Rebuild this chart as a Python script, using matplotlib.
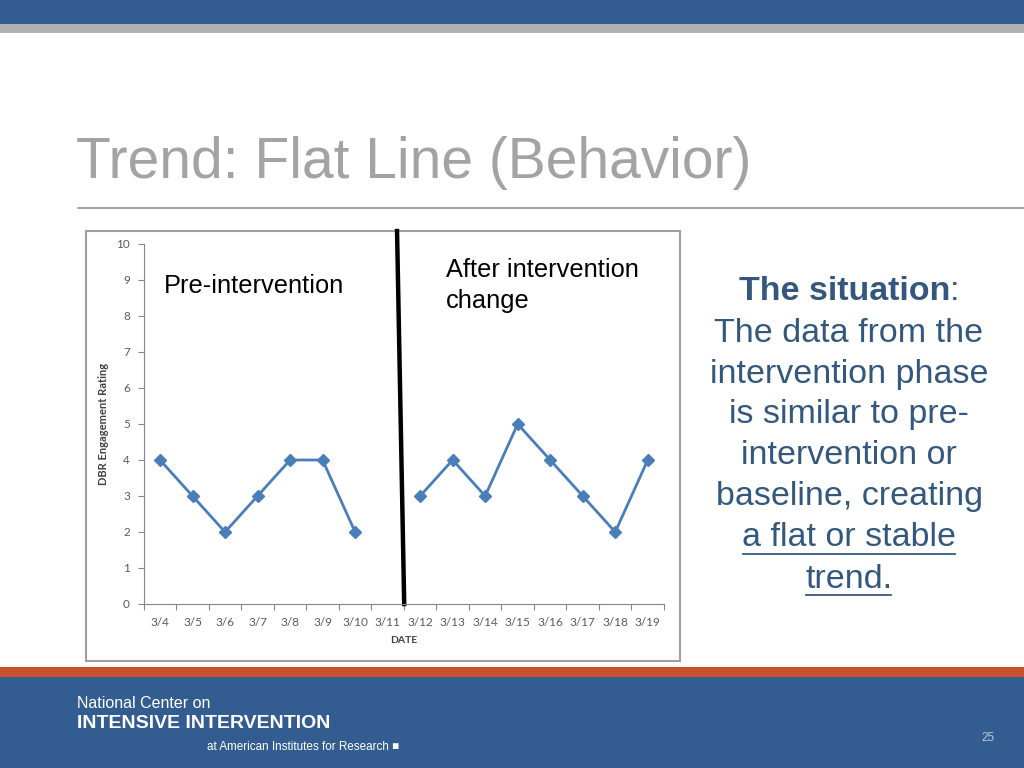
import matplotlib
matplotlib.use('Agg')
import matplotlib.pyplot as plt
from matplotlib.patches import Rectangle
from matplotlib.lines import Line2D
import numpy as np

# data
dates = ['3/4', '3/5', '3/6', '3/7', '3/8', '3/9', '3/10', '3/11',
         '3/12', '3/13', '3/14', '3/15', '3/16', '3/17', '3/18', '3/19']
pre_dates = ['3/4', '3/5', '3/6', '3/7', '3/8', '3/9', '3/10']
pre_vals = [4, 3, 2, 3, 4, 4, 2]
post_dates = ['3/12', '3/13', '3/14', '3/15', '3/16', '3/17', '3/18', '3/19']
post_vals = [3, 4, 3, 5, 4, 3, 2, 4]
yticks = list(range(0, 11))

blue_bar = '#335d90'
txt_blue = '#34587d'
line_blue = '#4a7ebb'
tick_gray = '#595959'

fig = plt.figure(figsize=(10.24, 7.68), dpi=100)

# slide background drawn in pixel coords
bg = fig.add_axes([0, 0, 1, 1])
bg.set_xlim(0, 1024)
bg.set_ylim(768, 0)
bg.axis('off')

bg.add_patch(Rectangle((0, 0), 1024, 24, color=blue_bar, lw=0))
bg.add_patch(Rectangle((0, 24), 1024, 9, color='#b1b1b1', lw=0))
bg.add_patch(Rectangle((0, 667), 1024, 10, color='#c8512c', lw=0))
bg.add_patch(Rectangle((0, 677), 1024, 91, color=blue_bar, lw=0))

rfont = ['Liberation Sans', 'DejaVu Sans']
bg.text(76, 163, 'Trend: Flat Line (Behavior)', fontsize=41, color='#a3a3a3',
        family=rfont, va='center', ha='left')
bg.plot([78, 1024], [208, 208], color='#8a93a6', lw=1.2)

# picture frame of the chart
bg.add_patch(Rectangle((86, 231), 594, 430, facecolor='white', edgecolor='#a0a0a0', lw=1.5))

# right-hand text
fs = 24.5
bg.text(739, 292, 'The situation', fontsize=fs, color=txt_blue, family=rfont,
        fontweight='bold', ha='left', va='center')
bg.text(950, 292, ':', fontsize=fs, color=txt_blue, family=rfont, ha='left', va='center')
lines = ['The data from the', 'intervention phase', 'is similar to pre-',
         'intervention or', 'baseline, creating', 'a flat or stable', 'trend.']
for k, s in enumerate(lines):
    bg.text(849, 333 + k * 41, s, fontsize=fs, color=txt_blue, family=rfont,
            ha='center', va='center')
bg.plot([743, 955], [554, 554], color=txt_blue, lw=1.3)
bg.plot([806, 891], [595, 595], color=txt_blue, lw=1.3)

# annotations inside the chart picture
bg.text(164, 286, 'Pre-intervention', fontsize=18.3, family=rfont, va='center', ha='left')
bg.text(446, 270, 'After intervention', fontsize=18.3, family=rfont, va='center', ha='left')
bg.text(446, 301, 'change', fontsize=18.3, family=rfont, va='center', ha='left')

# footer
bg.text(77, 703, 'National Center on', fontsize=11.5, color='white', family=rfont, va='center')
bg.text(77, 724, 'INTENSIVE INTERVENTION', fontsize=14, color='white', family=rfont,
        fontweight='bold', va='center')
bg.text(207, 747, 'at American Institutes for Research \u25a0', fontsize=8.4, color='white',
        family=rfont, va='center')
bg.text(988, 738, '25', fontsize=8.5, color='#b9c6d8', family=rfont, ha='center', va='center')

# the chart itself
ax = fig.add_axes([143.75 / 1024, (768 - 604) / 768, 520.25 / 1024, 360 / 768])
ax.set_facecolor('none')
xpos = {d: i for i, d in enumerate(dates)}
ax.plot([xpos[d] for d in pre_dates], pre_vals, color=line_blue, lw=2,
        marker='D', markersize=6.5)
ax.plot([xpos[d] for d in post_dates], post_vals, color=line_blue, lw=2,
        marker='D', markersize=6.5)

ax.set_xlim(-0.5, len(dates) - 0.5)
ax.set_ylim(0, 10)
ax.set_yticks(yticks)
ax.set_xticks(np.arange(len(dates) + 1) - 0.5)
ax.set_xticklabels([])
ax.set_xticks(np.arange(len(dates)), minor=True)
ax.set_xticklabels(dates, minor=True)
ax.tick_params(axis='x', which='minor', length=0, pad=9)
ax.tick_params(axis='x', which='major', length=4, color='#868686')
ax.tick_params(axis='y', length=4, color='#868686', pad=6)
for lab in ax.get_xticklabels(minor=True) + ax.get_yticklabels():
    lab.set_fontsize(8.5)
    lab.set_color(tick_gray)
    lab.set_family(['Lato', 'DejaVu Sans'])
for side in ['top', 'right']:
    ax.spines[side].set_visible(False)
for side in ['left', 'bottom']:
    ax.spines[side].set_color('#868686')
ax.set_ylabel('DBR Engagement Rating', fontsize=8, fontweight='bold', color='#404040',
              family=['Lato', 'DejaVu Sans'], labelpad=5)
ax.set_xlabel('DATE', fontsize=7.5, fontweight='bold', color='#404040',
              family=['Lato', 'DejaVu Sans'], labelpad=6)

# phase change line
ax.add_line(Line2D([7.29, 7.51], [10.36, 0], color='black', lw=3.2, clip_on=False))

fig.savefig('out.png', dpi=100)
